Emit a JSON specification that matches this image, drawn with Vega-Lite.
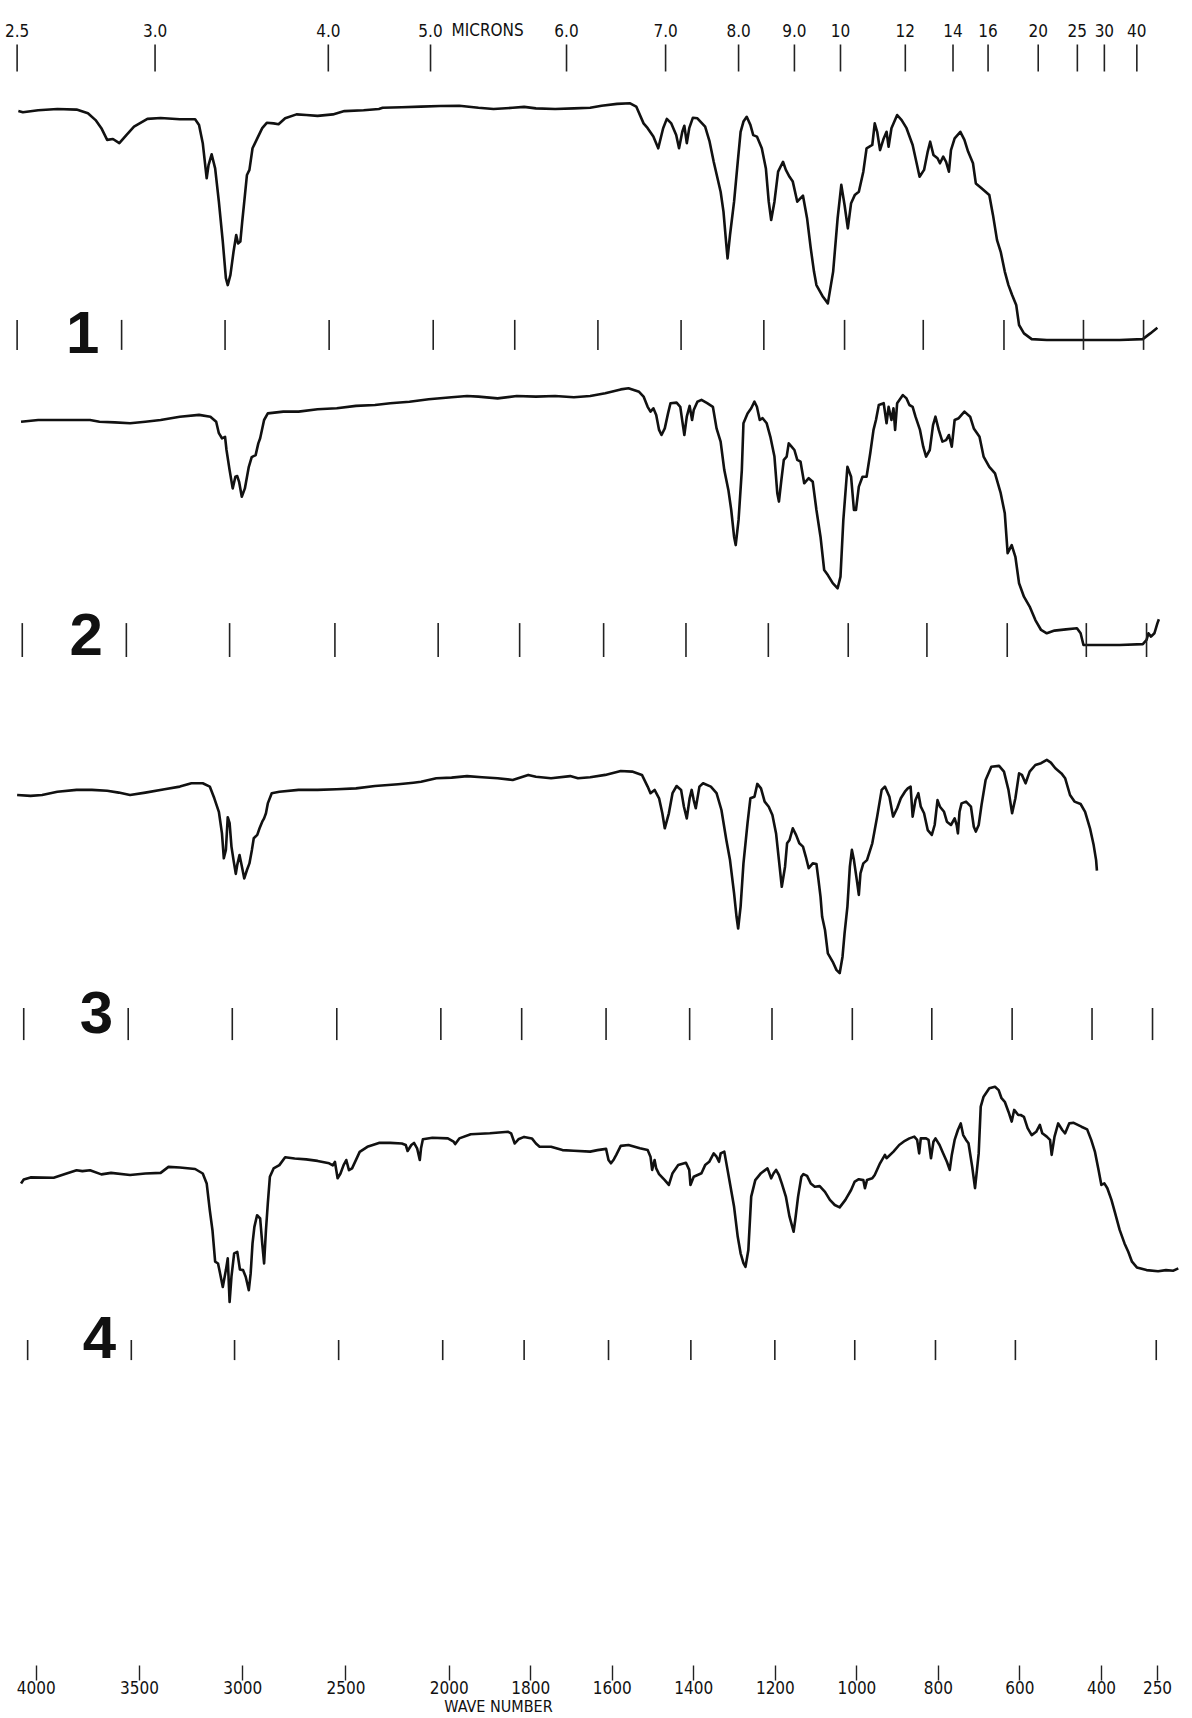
{
  "$schema": "https://vega.github.io/schema/vega-lite/v6.json",
  "width": 1192,
  "height": 1718,
  "autosize": {"type": "none"},
  "padding": 0,
  "background": "white",
  "config": {"view": {"stroke": null}, "font": "Liberation Sans"},
  "datasets": {
    "s1": [
      {"wn":4084,"T":76.3},{"wn":4062,"T":75.9},{"wn":3988,"T":76.6},{"wn":3895,"T":77},{"wn":3802,"T":76.8},{"wn":3747,"T":75.6},{"wn":3710,"T":73.3},{"wn":3682,"T":70.6},{"wn":3654,"T":66.7},{"wn":3626,"T":67},{"wn":3595,"T":65.6},{"wn":3561,"T":68.3},{"wn":3524,"T":71.1},{"wn":3459,"T":73.7},{"wn":3395,"T":74},{"wn":3302,"T":73.6},{"wn":3228,"T":73.6},{"wn":3209,"T":71.7},{"wn":3191,"T":65.6},{"wn":3172,"T":53.9},{"wn":3163,"T":58.3},{"wn":3148,"T":61.9},{"wn":3131,"T":57.2},{"wn":3113,"T":46.1},{"wn":3094,"T":32.8},{"wn":3079,"T":20.6},{"wn":3070,"T":18.3},{"wn":3057,"T":21.7},{"wn":3042,"T":29.4},{"wn":3029,"T":35},{"wn":3020,"T":32.2},{"wn":3009,"T":32.8},{"wn":3000,"T":39.4},{"wn":2990,"T":46.1},{"wn":2977,"T":55},{"wn":2965,"T":56.7},{"wn":2950,"T":63.9},{"wn":2927,"T":67.2},{"wn":2903,"T":70.6},{"wn":2881,"T":72.4},{"wn":2848,"T":72.2},{"wn":2824,"T":71.9},{"wn":2792,"T":73.9},{"wn":2737,"T":75.2},{"wn":2690,"T":75},{"wn":2635,"T":74.7},{"wn":2561,"T":75.2},{"wn":2505,"T":76.3},{"wn":2412,"T":76.6},{"wn":2338,"T":77},{"wn":2320,"T":77.4},{"wn":2227,"T":77.6},{"wn":2134,"T":77.8},{"wn":2042,"T":78},{"wn":1974,"T":78.1},{"wn":1927,"T":77.4},{"wn":1890,"T":77},{"wn":1843,"T":77.4},{"wn":1815,"T":77.7},{"wn":1786,"T":77.2},{"wn":1739,"T":77},{"wn":1693,"T":77.2},
      {"wn":1653,"T":77.4},{"wn":1625,"T":78.1},{"wn":1587,"T":78.7},{"wn":1555,"T":78.9},{"wn":1540,"T":77.8},{"wn":1522,"T":72.2},{"wn":1512,"T":70.6},{"wn":1498,"T":67.8},{"wn":1486,"T":63.9},{"wn":1474,"T":70.6},{"wn":1465,"T":73.7},{"wn":1454,"T":72.2},{"wn":1442,"T":68.3},{"wn":1435,"T":63.9},{"wn":1427,"T":69.4},{"wn":1422,"T":71.4},{"wn":1416,"T":65.6},{"wn":1410,"T":70.6},{"wn":1401,"T":74.1},{"wn":1390,"T":73.9},{"wn":1371,"T":71.1},{"wn":1360,"T":66.1},{"wn":1350,"T":59.4},{"wn":1333,"T":49.4},{"wn":1326,"T":42.8},{"wn":1319,"T":31.7},{"wn":1316,"T":27.2},{"wn":1310,"T":35},{"wn":1300,"T":46.1},{"wn":1291,"T":59.4},{"wn":1284,"T":69.4},{"wn":1277,"T":72.8},{"wn":1269,"T":74.4},{"wn":1260,"T":71.7},{"wn":1253,"T":68.3},{"wn":1244,"T":67.8},{"wn":1232,"T":63.9},{"wn":1222,"T":57.2},{"wn":1215,"T":46.1},{"wn":1209,"T":40},{"wn":1201,"T":46.1},{"wn":1192,"T":56.1},{"wn":1180,"T":59.4},{"wn":1173,"T":56.7},{"wn":1164,"T":54.4},{"wn":1156,"T":52.8},{"wn":1145,"T":46.1},{"wn":1131,"T":48.1},{"wn":1121,"T":40.6},{"wn":1112,"T":30.6},{"wn":1104,"T":22.8},{"wn":1098,"T":18.3},{"wn":1082,"T":14.4},{"wn":1070,"T":12.2},{"wn":1057,"T":22.8},{"wn":1046,"T":40.6},{"wn":1037,"T":51.7},{"wn":1029,"T":45},{"wn":1021,"T":37.2},{"wn":1013,"T":45.6},{"wn":1004,"T":48.3},{"wn":994,"T":49.4},{"wn":983,"T":56.1},{"wn":975,"T":63.9},{"wn":961,"T":65},{"wn":955,"T":72.2},{"wn":949,"T":69.4},{"wn":942,"T":63.3},{"wn":933,"T":67.2},{"wn":926,"T":69.4},{"wn":921,"T":64.4},{"wn":914,"T":70.6},{"wn":900,"T":75},{"wn":889,"T":73.3},{"wn":877,"T":70.6},{"wn":862,"T":65},{"wn":853,"T":59.4},{"wn":845,"T":54.4},{"wn":834,"T":56.7},{"wn":825,"T":62.8},{"wn":819,"T":66.1},{"wn":811,"T":61.7},{"wn":801,"T":60.6},{"wn":795,"T":58.9},{"wn":787,"T":61.1},{"wn":780,"T":59.4},{"wn":773,"T":56.1},{"wn":768,"T":63.3},{"wn":759,"T":67.2},{"wn":745,"T":69.4},{"wn":735,"T":66.7},{"wn":726,"T":62.8},{"wn":714,"T":58.9},{"wn":707,"T":52.2},{"wn":693,"T":50.6},{"wn":674,"T":48.3},{"wn":665,"T":41.7},{"wn":655,"T":33.3},{"wn":646,"T":29.4},{"wn":636,"T":22.8},{"wn":627,"T":18.3},{"wn":618,"T":15},{"wn":608,"T":11.7},{"wn":601,"T":5},{"wn":589,"T":2.2},{"wn":570,"T":0.3},{"wn":533,"T":0},{"wn":476,"T":0},{"wn":429,"T":0},{"wn":350,"T":0},{"wn":288,"T":0.3},{"wn":268,"T":2.2},{"wn":249,"T":4.1}
    ],
    "s2": [
      {"wn":4071,"T":74.4},{"wn":3988,"T":75},{"wn":3895,"T":75},{"wn":3737,"T":75},{"wn":3691,"T":74.4},{"wn":3617,"T":74.2},{"wn":3543,"T":73.9},{"wn":3469,"T":74.4},{"wn":3395,"T":75},{"wn":3302,"T":76.1},{"wn":3209,"T":76.7},{"wn":3154,"T":76.1},{"wn":3126,"T":74.4},{"wn":3113,"T":70.6},{"wn":3098,"T":68.9},{"wn":3083,"T":69.4},{"wn":3076,"T":65},{"wn":3061,"T":58.3},{"wn":3046,"T":52.2},{"wn":3033,"T":56.1},{"wn":3024,"T":56.3},{"wn":3015,"T":54.4},{"wn":3002,"T":49.4},{"wn":2987,"T":52.2},{"wn":2968,"T":59.4},{"wn":2954,"T":62.6},{"wn":2935,"T":63.3},{"wn":2922,"T":67.2},{"wn":2913,"T":68.9},{"wn":2894,"T":75},{"wn":2876,"T":77.2},{"wn":2801,"T":77.8},{"wn":2727,"T":77.8},{"wn":2635,"T":78.6},{"wn":2542,"T":78.9},{"wn":2449,"T":79.7},{"wn":2357,"T":80},{"wn":2283,"T":80.6},{"wn":2190,"T":81.1},{"wn":2097,"T":81.9},{"wn":1993,"T":82.6},{"wn":1955,"T":83},{"wn":1927,"T":82.8},{"wn":1880,"T":82.2},{"wn":1833,"T":83},{"wn":1786,"T":82.8},{"wn":1739,"T":83},{"wn":1693,"T":82.6},
      {"wn":1653,"T":83},{"wn":1616,"T":83.9},{"wn":1578,"T":85.2},{"wn":1559,"T":85.6},{"wn":1533,"T":84.4},{"wn":1522,"T":82.8},{"wn":1512,"T":79.4},{"wn":1505,"T":77.8},{"wn":1498,"T":78.9},{"wn":1491,"T":76.7},{"wn":1484,"T":71.7},{"wn":1478,"T":70},{"wn":1470,"T":72.2},{"wn":1462,"T":77.2},{"wn":1456,"T":80.6},{"wn":1441,"T":80.8},{"wn":1432,"T":79.4},{"wn":1425,"T":72.8},{"wn":1422,"T":70},{"wn":1416,"T":76.1},{"wn":1409,"T":79.7},{"wn":1403,"T":75},{"wn":1399,"T":78.3},{"wn":1390,"T":81.1},{"wn":1380,"T":81.7},{"wn":1366,"T":80.6},{"wn":1352,"T":79.4},{"wn":1343,"T":72.2},{"wn":1333,"T":67.8},{"wn":1324,"T":58.3},{"wn":1314,"T":51.7},{"wn":1307,"T":45},{"wn":1300,"T":36.1},{"wn":1296,"T":33.3},{"wn":1289,"T":41.7},{"wn":1281,"T":58.3},{"wn":1277,"T":73.9},{"wn":1267,"T":77.2},{"wn":1258,"T":78.9},{"wn":1250,"T":81.1},{"wn":1244,"T":79.4},{"wn":1237,"T":75},{"wn":1230,"T":75.6},{"wn":1220,"T":73.9},{"wn":1211,"T":69.4},{"wn":1201,"T":62.8},{"wn":1194,"T":50.6},{"wn":1190,"T":47.8},{"wn":1184,"T":55},{"wn":1178,"T":61.7},{"wn":1171,"T":62.8},{"wn":1166,"T":67.2},{"wn":1159,"T":66.1},{"wn":1152,"T":65},{"wn":1145,"T":61.7},{"wn":1137,"T":61.1},{"wn":1128,"T":53.9},{"wn":1117,"T":55.6},{"wn":1107,"T":54.4},{"wn":1098,"T":45},{"wn":1088,"T":36.1},{"wn":1079,"T":25},{"wn":1070,"T":23.3},{"wn":1058,"T":20.6},{"wn":1046,"T":18.9},{"wn":1039,"T":22.8},{"wn":1032,"T":41.7},{"wn":1022,"T":59.4},{"wn":1013,"T":56.1},{"wn":1006,"T":45},{"wn":1001,"T":45},{"wn":994,"T":52.8},{"wn":985,"T":56.1},{"wn":975,"T":56.1},{"wn":966,"T":63.9},{"wn":958,"T":71.7},{"wn":952,"T":75},{"wn":945,"T":80},{"wn":933,"T":80.6},{"wn":926,"T":73.9},{"wn":921,"T":79.4},{"wn":914,"T":75},{"wn":909,"T":78.9},{"wn":905,"T":71.7},{"wn":900,"T":80.6},{"wn":886,"T":83.3},{"wn":877,"T":82.2},{"wn":870,"T":80},{"wn":862,"T":79.4},{"wn":855,"T":76.1},{"wn":844,"T":71.7},{"wn":836,"T":66.1},{"wn":829,"T":62.8},{"wn":820,"T":65},{"wn":812,"T":73.3},{"wn":806,"T":76.1},{"wn":798,"T":71.7},{"wn":789,"T":67.8},{"wn":780,"T":68.3},{"wn":773,"T":70},{"wn":766,"T":66.1},{"wn":759,"T":75},{"wn":749,"T":75.6},{"wn":735,"T":77.8},{"wn":721,"T":76.1},{"wn":712,"T":72.2},{"wn":698,"T":69.4},{"wn":688,"T":62.8},{"wn":674,"T":59.4},{"wn":660,"T":57.2},{"wn":646,"T":50.6},{"wn":636,"T":43.9},{"wn":629,"T":30.6},{"wn":619,"T":33.3},{"wn":610,"T":29.4},{"wn":601,"T":20.6},{"wn":589,"T":16.1},{"wn":575,"T":12.8},{"wn":561,"T":8.3},{"wn":547,"T":5},{"wn":533,"T":3.9},{"wn":514,"T":4.8},{"wn":486,"T":5.2},{"wn":459,"T":5.6},{"wn":450,"T":3.9},{"wn":443,"T":0},{"wn":410,"T":0},{"wn":350,"T":0},{"wn":288,"T":0.3},{"wn":278,"T":1.7},{"wn":273,"T":3.9},{"wn":266,"T":2.8},{"wn":257,"T":3.9},{"wn":249,"T":7.2},{"wn":245,"T":8.6}
    ],
    "s3": [
      {"wn":4090,"T":75},{"wn":4025,"T":74.7},{"wn":3969,"T":75},{"wn":3895,"T":76.1},{"wn":3802,"T":76.7},{"wn":3728,"T":76.7},{"wn":3654,"T":76.4},{"wn":3598,"T":75.8},{"wn":3543,"T":75},{"wn":3469,"T":75.8},{"wn":3376,"T":76.9},{"wn":3302,"T":77.8},{"wn":3246,"T":78.9},{"wn":3191,"T":78.9},{"wn":3157,"T":77.8},{"wn":3135,"T":73.9},{"wn":3113,"T":69.4},{"wn":3098,"T":62.2},{"wn":3089,"T":53.9},{"wn":3079,"T":56.7},{"wn":3070,"T":67.6},{"wn":3061,"T":65.6},{"wn":3052,"T":57.8},{"wn":3042,"T":53.3},{"wn":3031,"T":48.7},{"wn":3024,"T":51.7},{"wn":3013,"T":55},{"wn":3002,"T":51.3},{"wn":2990,"T":47.2},{"wn":2977,"T":50},{"wn":2965,"T":52.2},{"wn":2953,"T":56.7},{"wn":2944,"T":60.6},{"wn":2927,"T":61.7},{"wn":2916,"T":63.9},{"wn":2903,"T":66.1},{"wn":2894,"T":67.2},{"wn":2885,"T":68.9},{"wn":2876,"T":72.2},{"wn":2857,"T":75.6},{"wn":2820,"T":76.1},{"wn":2727,"T":76.7},{"wn":2635,"T":76.7},{"wn":2542,"T":76.9},{"wn":2449,"T":77.2},{"wn":2357,"T":78},{"wn":2245,"T":78.6},{"wn":2171,"T":79.1},{"wn":2134,"T":79.4},{"wn":2060,"T":80.6},{"wn":1993,"T":80.8},{"wn":1955,"T":81.3},{"wn":1918,"T":80.9},{"wn":1880,"T":80.6},{"wn":1843,"T":80},{"wn":1805,"T":81.7},{"wn":1786,"T":81.1},{"wn":1749,"T":80.6},{"wn":1702,"T":81.3},{"wn":1683,"T":80.6},
      {"wn":1653,"T":80.9},{"wn":1616,"T":81.7},{"wn":1578,"T":83},{"wn":1550,"T":82.8},{"wn":1526,"T":81.7},{"wn":1512,"T":77.8},{"wn":1505,"T":75.6},{"wn":1495,"T":76.7},{"wn":1484,"T":73.9},{"wn":1476,"T":68.9},{"wn":1470,"T":63.9},{"wn":1460,"T":68.9},{"wn":1451,"T":75.6},{"wn":1441,"T":78},{"wn":1430,"T":76.7},{"wn":1423,"T":71.1},{"wn":1416,"T":67.2},{"wn":1409,"T":73.9},{"wn":1404,"T":76.7},{"wn":1399,"T":73.3},{"wn":1394,"T":70.6},{"wn":1385,"T":77.8},{"wn":1376,"T":78.9},{"wn":1357,"T":77.8},{"wn":1343,"T":75.6},{"wn":1331,"T":70},{"wn":1319,"T":60},{"wn":1310,"T":53.3},{"wn":1300,"T":42.2},{"wn":1294,"T":34.4},{"wn":1290,"T":30.5},{"wn":1284,"T":37.8},{"wn":1277,"T":52.2},{"wn":1267,"T":65.6},{"wn":1260,"T":73.9},{"wn":1250,"T":74.4},{"wn":1243,"T":78.7},{"wn":1234,"T":77.2},{"wn":1225,"T":72.8},{"wn":1215,"T":71.1},{"wn":1206,"T":68.3},{"wn":1197,"T":62.2},{"wn":1190,"T":53.3},{"wn":1183,"T":44.4},{"wn":1175,"T":51.1},{"wn":1170,"T":58.9},{"wn":1164,"T":60},{"wn":1156,"T":63.9},{"wn":1148,"T":61.7},{"wn":1140,"T":58.9},{"wn":1131,"T":57.8},{"wn":1124,"T":54.4},{"wn":1117,"T":50.6},{"wn":1107,"T":52.2},{"wn":1098,"T":52},{"wn":1093,"T":46.7},{"wn":1088,"T":41.1},{"wn":1084,"T":34.4},{"wn":1077,"T":30},{"wn":1070,"T":22.2},{"wn":1058,"T":19.4},{"wn":1049,"T":16.7},{"wn":1041,"T":15.6},{"wn":1034,"T":21.1},{"wn":1029,"T":28.9},{"wn":1022,"T":37.8},{"wn":1016,"T":51.1},{"wn":1011,"T":56.7},{"wn":1006,"T":53.3},{"wn":999,"T":46.7},{"wn":994,"T":41.7},{"wn":990,"T":48.9},{"wn":983,"T":52.2},{"wn":974,"T":53.3},{"wn":961,"T":58.9},{"wn":949,"T":67.8},{"wn":938,"T":76.7},{"wn":930,"T":77.8},{"wn":919,"T":74.4},{"wn":910,"T":67.8},{"wn":900,"T":70.6},{"wn":891,"T":73.9},{"wn":881,"T":76.1},{"wn":874,"T":77.2},{"wn":867,"T":77.8},{"wn":862,"T":67.8},{"wn":855,"T":73.3},{"wn":848,"T":75.6},{"wn":842,"T":71.1},{"wn":834,"T":68.9},{"wn":825,"T":63.3},{"wn":815,"T":61.7},{"wn":808,"T":65},{"wn":801,"T":73.3},{"wn":795,"T":71.1},{"wn":785,"T":69.4},{"wn":778,"T":66.1},{"wn":768,"T":65},{"wn":759,"T":67.2},{"wn":754,"T":65},{"wn":751,"T":62.2},{"wn":747,"T":69.4},{"wn":742,"T":72.2},{"wn":731,"T":72.8},{"wn":719,"T":71.1},{"wn":712,"T":64.4},{"wn":707,"T":62.8},{"wn":700,"T":65},{"wn":693,"T":71.7},{"wn":683,"T":80},{"wn":669,"T":84.4},{"wn":650,"T":84.7},{"wn":638,"T":82.8},{"wn":627,"T":76.7},{"wn":618,"T":68.9},{"wn":610,"T":73.9},{"wn":601,"T":82.2},{"wn":594,"T":81.7},{"wn":585,"T":78.9},{"wn":575,"T":82.8},{"wn":561,"T":85},{"wn":547,"T":85.6},{"wn":533,"T":86.7},{"wn":523,"T":85.8},{"wn":512,"T":83.9},{"wn":497,"T":82.2},{"wn":488,"T":80.6},{"wn":476,"T":75},{"wn":465,"T":72.8},{"wn":450,"T":72},{"wn":439,"T":69.4},{"wn":427,"T":63.9},{"wn":418,"T":58.3},{"wn":412,"T":53.3},{"wn":410,"T":49.8}
    ],
    "s4": [
      {"wn":4071,"T":42.2},{"wn":4058,"T":43.5},{"wn":4025,"T":44.2},{"wn":3913,"T":44.1},{"wn":3858,"T":45.3},{"wn":3802,"T":46.6},{"wn":3774,"T":46.3},{"wn":3737,"T":46.6},{"wn":3682,"T":45.2},{"wn":3635,"T":45.7},{"wn":3543,"T":45},{"wn":3469,"T":45.5},{"wn":3395,"T":45.7},{"wn":3357,"T":47.7},{"wn":3302,"T":47.5},{"wn":3228,"T":47},{"wn":3191,"T":45.5},{"wn":3172,"T":42.2},{"wn":3157,"T":33.3},{"wn":3144,"T":26.6},{"wn":3131,"T":16.1},{"wn":3117,"T":15.5},{"wn":3107,"T":12.2},{"wn":3094,"T":7.7},{"wn":3079,"T":13.3},{"wn":3070,"T":17.2},{"wn":3061,"T":2.7},{"wn":3052,"T":11.1},{"wn":3039,"T":18.9},{"wn":3024,"T":19.4},{"wn":3011,"T":13.5},{"wn":2996,"T":13.3},{"wn":2983,"T":11.1},{"wn":2968,"T":6.6},{"wn":2959,"T":12.2},{"wn":2950,"T":22.2},{"wn":2941,"T":27.7},{"wn":2928,"T":31.6},{"wn":2913,"T":30.5},{"wn":2903,"T":22.2},{"wn":2894,"T":15.5},{"wn":2885,"T":26.6},{"wn":2876,"T":35.5},{"wn":2866,"T":44.4},{"wn":2848,"T":47.2},{"wn":2820,"T":48.3},{"wn":2792,"T":50.9},{"wn":2746,"T":50.5},{"wn":2690,"T":50.2},{"wn":2635,"T":49.7},{"wn":2579,"T":48.9},{"wn":2561,"T":48.2},{"wn":2551,"T":49.4},{"wn":2538,"T":43.9},{"wn":2524,"T":45.5},{"wn":2509,"T":48.3},{"wn":2496,"T":50},{"wn":2483,"T":46.6},{"wn":2468,"T":47.2},{"wn":2431,"T":52.7},{"wn":2394,"T":54.4},{"wn":2338,"T":55.7},{"wn":2283,"T":55.7},{"wn":2227,"T":55.5},{"wn":2208,"T":55},{"wn":2199,"T":53},{"wn":2181,"T":55},{"wn":2168,"T":55.7},{"wn":2153,"T":53.9},{"wn":2140,"T":50},{"wn":2134,"T":53.9},{"wn":2125,"T":56.9},{"wn":2079,"T":57.4},{"wn":2004,"T":57.2},{"wn":1988,"T":56.1},{"wn":1984,"T":55.3},{"wn":1974,"T":57.2},{"wn":1946,"T":58.6},{"wn":1899,"T":58.9},{"wn":1854,"T":59.4},{"wn":1847,"T":58.9},{"wn":1838,"T":55.5},{"wn":1829,"T":56.9},{"wn":1815,"T":57.7},{"wn":1796,"T":57.2},{"wn":1786,"T":55.5},{"wn":1777,"T":54.4},{"wn":1749,"T":54.4},{"wn":1721,"T":53.3},{"wn":1693,"T":53.1},
      {"wn":1653,"T":52.8},{"wn":1635,"T":53.3},{"wn":1614,"T":53.7},{"wn":1608,"T":50},{"wn":1602,"T":48.9},{"wn":1595,"T":50.2},{"wn":1589,"T":51.7},{"wn":1578,"T":54.7},{"wn":1559,"T":55},{"wn":1531,"T":53.9},{"wn":1512,"T":53.3},{"wn":1505,"T":51.1},{"wn":1501,"T":46.7},{"wn":1495,"T":50},{"wn":1491,"T":47.2},{"wn":1484,"T":45.3},{"wn":1470,"T":43.3},{"wn":1460,"T":41.7},{"wn":1451,"T":45.6},{"wn":1437,"T":48.3},{"wn":1418,"T":49.1},{"wn":1410,"T":46.7},{"wn":1407,"T":41.7},{"wn":1399,"T":44.4},{"wn":1380,"T":45.6},{"wn":1371,"T":48.3},{"wn":1361,"T":49.4},{"wn":1350,"T":52.2},{"wn":1343,"T":51.1},{"wn":1337,"T":49.4},{"wn":1333,"T":52.2},{"wn":1324,"T":52.8},{"wn":1313,"T":44.4},{"wn":1300,"T":34.4},{"wn":1291,"T":24.4},{"wn":1284,"T":18.9},{"wn":1277,"T":15.6},{"wn":1272,"T":14.4},{"wn":1265,"T":20},{"wn":1258,"T":37.8},{"wn":1248,"T":43.3},{"wn":1234,"T":45.6},{"wn":1218,"T":47.2},{"wn":1209,"T":43.9},{"wn":1203,"T":45.6},{"wn":1197,"T":46.7},{"wn":1190,"T":45},{"wn":1183,"T":42.2},{"wn":1173,"T":37.8},{"wn":1164,"T":31.1},{"wn":1154,"T":26.1},{"wn":1150,"T":30},{"wn":1143,"T":37.8},{"wn":1135,"T":44.4},{"wn":1130,"T":45.3},{"wn":1121,"T":44.7},{"wn":1112,"T":42.2},{"wn":1102,"T":41.1},{"wn":1090,"T":41.3},{"wn":1077,"T":39.4},{"wn":1065,"T":36.7},{"wn":1053,"T":35},{"wn":1041,"T":34.2},{"wn":1027,"T":36.7},{"wn":1013,"T":40},{"wn":1004,"T":42.8},{"wn":994,"T":43.6},{"wn":983,"T":43.3},{"wn":979,"T":40.6},{"wn":974,"T":43.3},{"wn":961,"T":43.9},{"wn":955,"T":45},{"wn":942,"T":48.9},{"wn":930,"T":51.7},{"wn":926,"T":50.6},{"wn":909,"T":52.8},{"wn":895,"T":55},{"wn":881,"T":56.4},{"wn":870,"T":57.2},{"wn":858,"T":57.8},{"wn":851,"T":56.7},{"wn":846,"T":52.2},{"wn":842,"T":57.2},{"wn":829,"T":57.2},{"wn":823,"T":56.7},{"wn":817,"T":50.6},{"wn":811,"T":56.1},{"wn":806,"T":57.2},{"wn":796,"T":55},{"wn":787,"T":52.2},{"wn":778,"T":49.4},{"wn":771,"T":46.7},{"wn":766,"T":51.7},{"wn":759,"T":56.7},{"wn":751,"T":60},{"wn":744,"T":62.2},{"wn":738,"T":58.3},{"wn":731,"T":56.7},{"wn":725,"T":55.6},{"wn":716,"T":47.8},{"wn":709,"T":40.6},{"wn":700,"T":52.2},{"wn":695,"T":67.8},{"wn":688,"T":71.1},{"wn":674,"T":73.9},{"wn":660,"T":74.4},{"wn":651,"T":73.3},{"wn":644,"T":70.6},{"wn":636,"T":69.4},{"wn":627,"T":66.1},{"wn":619,"T":62.8},{"wn":613,"T":66.7},{"wn":603,"T":65},{"wn":597,"T":65},{"wn":589,"T":64.4},{"wn":580,"T":60.6},{"wn":570,"T":58.3},{"wn":559,"T":59.4},{"wn":550,"T":61.7},{"wn":544,"T":58.9},{"wn":533,"T":57.8},{"wn":525,"T":56.7},{"wn":521,"T":51.7},{"wn":514,"T":57.8},{"wn":505,"T":62.2},{"wn":495,"T":60},{"wn":488,"T":58.9},{"wn":478,"T":62.2},{"wn":467,"T":62.4},{"wn":448,"T":61.1},{"wn":434,"T":60.2},{"wn":424,"T":56.7},{"wn":415,"T":52.8},{"wn":406,"T":46.7},{"wn":399,"T":41.7},{"wn":391,"T":42.2},{"wn":383,"T":40.6},{"wn":372,"T":36.7},{"wn":362,"T":32.2},{"wn":350,"T":26.7},{"wn":337,"T":22.2},{"wn":327,"T":19.4},{"wn":317,"T":16.1},{"wn":304,"T":14.2},{"wn":278,"T":13.3},{"wn":247,"T":12.9},{"wn":226,"T":13.3},{"wn":206,"T":13.1},{"wn":193,"T":13.9}
    ],
    "t1": [{"wn":4090},{"wn":3584},{"wn":3083},{"wn":2579},{"wn":2075},{"wn":1838},{"wn":1634},{"wn":1430},{"wn":1227},{"wn":1029},{"wn":836},{"wn":638},{"wn":443},{"wn":286}],
    "t2": [{"wn":4065},{"wn":3561},{"wn":3061},{"wn":2551},{"wn":2051},{"wn":1826},{"wn":1620},{"wn":1418},{"wn":1216},{"wn":1020},{"wn":827},{"wn":630},{"wn":436},{"wn":278}],
    "t3": [{"wn":4058},{"wn":3552},{"wn":3048},{"wn":2542},{"wn":2038},{"wn":1821},{"wn":1614},{"wn":1409},{"wn":1207},{"wn":1010},{"wn":815},{"wn":618},{"wn":422},{"wn":262}],
    "t4": [{"wn":4039},{"wn":3537},{"wn":3037},{"wn":2533},{"wn":2029},{"wn":1815},{"wn":1608},{"wn":1406},{"wn":1200},{"wn":1004},{"wn":806},{"wn":610},{"wn":252}],
    "mic": [{"wn":4090,"label":"2.5"},{"wn":3422,"label":"3.0"},{"wn":2583,"label":"4.0"},{"wn":2088,"label":"5.0"},{"wn":1711,"label":"6.0"},{"wn":1468,"label":"7.0"},{"wn":1289,"label":"8.0"},{"wn":1152,"label":"9.0"},{"wn":1039,"label":"10"},{"wn":880,"label":"12"},{"wn":763,"label":"14"},{"wn":677,"label":"16"},{"wn":554,"label":"20"},{"wn":458,"label":"25"},{"wn":391,"label":"30"},{"wn":304,"label":"40"}]
  },
  "encoding": {
    "x": {
      "field": "wn",
      "type": "quantitative",
      "scale": {"domain": [4000, 2000, 400, 250], "range": [35.7, 448.7, 1101, 1157], "zero": false, "nice": false},
      "axis": {
        "orient": "bottom",
        "offset": -53,
        "values": [4000, 3500, 3000, 2500, 2000, 1800, 1600, 1400, 1200, 1000, 800, 600, 400, 250],
        "format": "d",
        "domain": false,
        "grid": false,
        "tickSize": 15,
        "tickWidth": 1.4,
        "tickColor": "#222222",
        "labelPadding": 0,
        "labelFontSize": 17,
        "labelFont": "Liberation Sans Narrow, DejaVu Sans Condensed, Liberation Sans",
        "labelColor": "#111111",
        "labelFlush": false,
        "labelOverlap": false,
        "labelBound": false,
        "title": "WAVE NUMBER",
        "titleFont": "Liberation Sans Narrow, DejaVu Sans Condensed, Liberation Sans",
        "titleFontSize": 16,
        "titleFontWeight": "normal",
        "titleColor": "#111111",
        "titleX": 498,
        "titleY": 33,
        "titleBaseline": "top",
        "titleAlign": "center"
      }
    }
  },
  "layer": [
    {
      "layer": [
        {"data": {"name": "s1"}, "mark": {"type": "line", "stroke": "#111111", "strokeWidth": 2.6, "strokeJoin": "round"},
         "encoding": {"y": {"field": "T", "type": "quantitative", "scale": {"domain": [-459.33, 113.33], "zero": false, "nice": false}, "axis": null}}},
        {"data": {"name": "t1"}, "mark": {"type": "rule", "stroke": "#222222", "strokeWidth": 1.6},
         "encoding": {"y": {"datum": 6.7, "type": "quantitative", "scale": {"domain": [-459.33, 113.33], "zero": false, "nice": false}, "axis": null}, "y2": {"datum": -3.3}}},
        {"data": {"values": [{"wn": 3773, "T": -4.3, "label": "1"}]}, "mark": {"type": "text", "font": "Liberation Sans", "fontWeight": "bold", "fontSize": 60, "align": "center", "baseline": "alphabetic", "color": "#111111"},
         "encoding": {"y": {"field": "T", "type": "quantitative", "scale": {"domain": [-459.33, 113.33], "zero": false, "nice": false}, "axis": null}, "text": {"field": "label"}}},
        {"data": {"name": "mic"}, "mark": {"type": "rule", "stroke": "#222222", "strokeWidth": 1.6},
         "encoding": {"y": {"datum": 98.5, "type": "quantitative", "scale": {"domain": [-459.33, 113.33], "zero": false, "nice": false}, "axis": null}, "y2": {"datum": 89.5}}},
        {"data": {"name": "mic"}, "mark": {"type": "text", "font": "Liberation Sans Narrow, DejaVu Sans Condensed, Liberation Sans", "fontSize": 17, "align": "center", "baseline": "alphabetic", "color": "#111111"},
         "encoding": {"y": {"datum": 101, "type": "quantitative", "scale": {"domain": [-459.33, 113.33], "zero": false, "nice": false}, "axis": null}, "text": {"field": "label"}}},
        {"data": {"values": [{"wn": 1993, "label": "MICRONS"}]}, "mark": {"type": "text", "font": "Liberation Sans Narrow, DejaVu Sans Condensed, Liberation Sans", "fontSize": 17, "align": "left", "baseline": "alphabetic", "color": "#111111"},
         "encoding": {"y": {"datum": 101.3, "type": "quantitative", "scale": {"domain": [-459.33, 113.33], "zero": false, "nice": false}, "axis": null}, "text": {"field": "label"}}}
      ]
    },
    {
      "layer": [
        {"data": {"name": "s2"}, "mark": {"type": "line", "stroke": "#111111", "strokeWidth": 2.6, "strokeJoin": "round"},
         "encoding": {"y": {"field": "T", "type": "quantitative", "scale": {"domain": [-357.67, 215], "zero": false, "nice": false}, "axis": null}}},
        {"data": {"name": "t2"}, "mark": {"type": "rule", "stroke": "#222222", "strokeWidth": 1.6},
         "encoding": {"y": {"datum": 7.3, "type": "quantitative", "scale": {"domain": [-357.67, 215], "zero": false, "nice": false}, "axis": null}, "y2": {"datum": -4}}},
        {"data": {"values": [{"wn": 3756, "T": -3.3, "label": "2"}]}, "mark": {"type": "text", "font": "Liberation Sans", "fontWeight": "bold", "fontSize": 60, "align": "center", "baseline": "alphabetic", "color": "#111111"},
         "encoding": {"y": {"field": "T", "type": "quantitative", "scale": {"domain": [-357.67, 215], "zero": false, "nice": false}, "axis": null}, "text": {"field": "label"}}}
      ]
    },
    {
      "layer": [
        {"data": {"name": "s3"}, "mark": {"type": "line", "stroke": "#111111", "strokeWidth": 2.6, "strokeJoin": "round"},
         "encoding": {"y": {"field": "T", "type": "quantitative", "scale": {"domain": [-232.67, 340], "zero": false, "nice": false}, "axis": null}}},
        {"data": {"name": "t3"}, "mark": {"type": "rule", "stroke": "#222222", "strokeWidth": 1.6},
         "encoding": {"y": {"datum": 4, "type": "quantitative", "scale": {"domain": [-232.67, 340], "zero": false, "nice": false}, "axis": null}, "y2": {"datum": -6.7}}},
        {"data": {"values": [{"wn": 3706, "T": -4.3, "label": "3"}]}, "mark": {"type": "text", "font": "Liberation Sans", "fontWeight": "bold", "fontSize": 60, "align": "center", "baseline": "alphabetic", "color": "#111111"},
         "encoding": {"y": {"field": "T", "type": "quantitative", "scale": {"domain": [-232.67, 340], "zero": false, "nice": false}, "axis": null}, "text": {"field": "label"}}}
      ]
    },
    {
      "layer": [
        {"data": {"name": "s4"}, "mark": {"type": "line", "stroke": "#111111", "strokeWidth": 2.6, "strokeJoin": "round"},
         "encoding": {"y": {"field": "T", "type": "quantitative", "scale": {"domain": [-136, 436.67], "zero": false, "nice": false}, "axis": null}}},
        {"data": {"name": "t4"}, "mark": {"type": "rule", "stroke": "#222222", "strokeWidth": 1.6},
         "encoding": {"y": {"datum": -10, "type": "quantitative", "scale": {"domain": [-136, 436.67], "zero": false, "nice": false}, "axis": null}, "y2": {"datum": -16.7}}},
        {"data": {"values": [{"wn": 3691, "T": -16, "label": "4"}]}, "mark": {"type": "text", "font": "Liberation Sans", "fontWeight": "bold", "fontSize": 60, "align": "center", "baseline": "alphabetic", "color": "#111111"},
         "encoding": {"y": {"field": "T", "type": "quantitative", "scale": {"domain": [-136, 436.67], "zero": false, "nice": false}, "axis": null}, "text": {"field": "label"}}}
      ]
    }
  ],
  "resolve": {"scale": {"y": "independent"}}
}
